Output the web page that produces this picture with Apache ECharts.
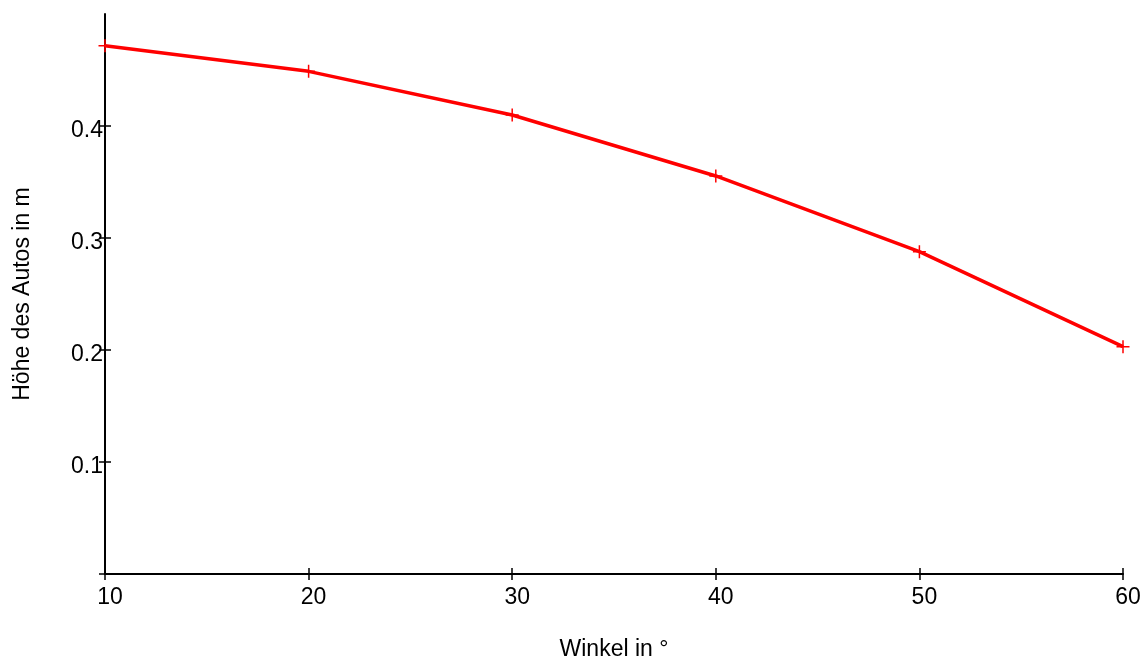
<!DOCTYPE html>
<html>
<head>
<meta charset="utf-8">
<script src="https://cdn.jsdelivr.net/npm/echarts@6/dist/echarts.min.js"></script>
<style>html,body{margin:0;padding:0;background:#fff;}#c{width:1148px;height:662px;}</style>
</head>
<body>
<div id="c"></div>
<script>
var angles = [10, 20, 30, 40, 50, 60];
var heights = [0.4717, 0.4488, 0.4098, 0.3554, 0.2878, 0.2030];
var yTicks = [0, 0.1, 0.2, 0.3, 0.4];
var yLabels = [0.1, 0.2, 0.3, 0.4];
var xName = 'Winkel in °';
var yName = 'Höhe des Autos in m';

var font = 'Liberation Sans, Arial, sans-serif';
var fs = 23;
var chart = echarts.init(document.getElementById('c'));
var data = angles.map(function (a, i) { return [a, heights[i]]; });
var tickStyle = { color: '#000', width: 1.5 };
chart.setOption({
  animation: false,
  backgroundColor: '#fff',
  grid: { left: 105, right: 25, top: 14, bottom: 88, containLabel: false, outerBoundsMode: 'none' },
  xAxis: [{
    type: 'value', min: 10, max: 60, interval: 10, position: 'bottom',
    name: xName, nameLocation: 'middle', nameGap: 64,
    nameTextStyle: { fontFamily: font, fontSize: fs, color: '#000' },
    axisLine: { show: true, lineStyle: { color: '#000', width: 2 } },
    axisTick: { show: true, length: 6, inside: false, lineStyle: tickStyle },
    axisLabel: { fontFamily: font, fontSize: fs, color: '#000', margin: 12, padding: [0, 0, 0, 10] },
    splitLine: { show: false }
  }, {
    type: 'value', min: 10, max: 60, interval: 10, position: 'bottom',
    axisLine: { show: false },
    axisTick: { show: true, length: 6, inside: true, lineStyle: tickStyle },
    axisLabel: { show: false },
    splitLine: { show: false }
  }],
  yAxis: [{
    type: 'value', min: 0, max: 0.5, position: 'left',
    name: yName, nameLocation: 'middle', nameGap: 71, nameRotate: 90,
    nameTextStyle: { fontFamily: font, fontSize: fs, color: '#000' },
    axisLine: { show: true, lineStyle: { color: '#000', width: 2 } },
    axisTick: { show: true, length: 6, inside: false, customValues: yTicks, lineStyle: tickStyle },
    axisLabel: { fontFamily: font, fontSize: fs, color: '#000', margin: 2, customValues: yLabels, verticalAlign: 'top', lineHeight: 10 },
    splitLine: { show: false }
  }, {
    type: 'value', min: 0, max: 0.5, position: 'left',
    axisLine: { show: false },
    axisTick: { show: true, length: 6, inside: true, customValues: yTicks, lineStyle: tickStyle },
    axisLabel: { show: false },
    splitLine: { show: false }
  }],
  series: [{
    type: 'line',
    xAxisIndex: 0, yAxisIndex: 0,
    data: data,
    clip: false,
    lineStyle: { color: '#ff0000', width: 3.5 },
    symbol: 'path://M0,-6 L0,6 M-6,0 L6,0',
    symbolSize: 13,
    showAllSymbol: true,
    itemStyle: { color: '#ff0000', borderColor: '#ff0000', borderWidth: 1.5 }
  }]
});
</script>
</body>
</html>
